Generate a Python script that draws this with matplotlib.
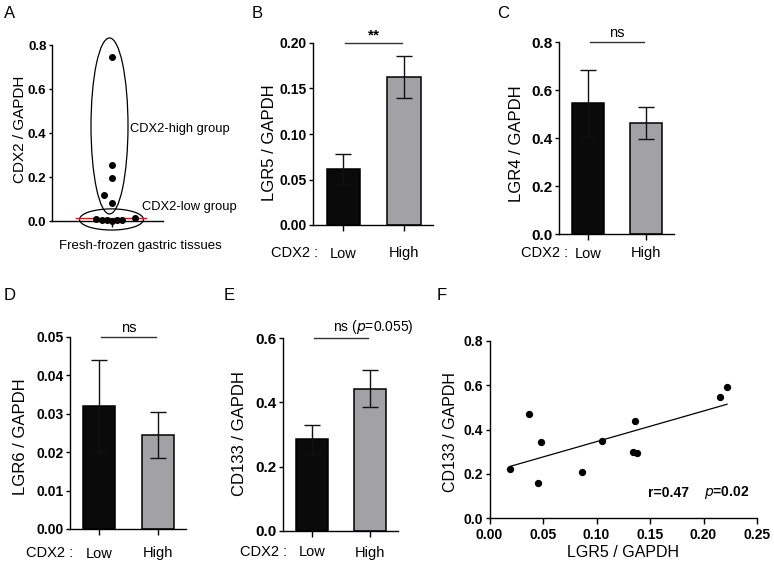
import numpy as np
import matplotlib
matplotlib.use("Agg")
import matplotlib.pyplot as plt
from matplotlib.patches import Ellipse

plt.rcParams['font.family'] = ['Liberation Sans', 'DejaVu Sans']
plt.rcParams['axes.linewidth'] = 1.0
plt.rcParams['xtick.major.width'] = 1.0
plt.rcParams['ytick.major.width'] = 1.0
plt.rcParams['xtick.major.size'] = 4
plt.rcParams['ytick.major.size'] = 3
plt.rcParams['ytick.major.pad'] = 1.5

# ---- data ----
cdx2_high = [0.744, 0.255, 0.197, 0.117, 0.08]
cdx2_low = [0.01, 0.003, 0.003, 0.0, 0.003, 0.003, 0.015]
cdx2_cutoff = 0.012

groups = ["Low", "High"]
lgr5_mean = [0.061, 0.163]
lgr5_err = [0.017, 0.023]
lgr4_mean = [0.545, 0.462]
lgr4_err = [0.14, 0.067]
lgr6_mean = [0.032, 0.0245]
lgr6_err = [0.012, 0.006]
cd133_mean = [0.285, 0.443]
cd133_err = [0.046, 0.057]

scat_lgr5 = [0.019, 0.037, 0.048, 0.045, 0.086, 0.105, 0.136, 0.134, 0.138, 0.215, 0.222]
scat_cd133 = [0.221, 0.47, 0.345, 0.157, 0.209, 0.348, 0.438, 0.298, 0.292, 0.545, 0.591]

W, H = 774, 564
PT = 100 / 72.0
fig = plt.figure(figsize=(W / 100, H / 100), dpi=100)


def px_axes(l, t, r, b):
    ax = fig.add_axes([l / W, (H - b) / H, (r - l) / W, (b - t) / H])
    ax.px = (l, t, r, b)
    return ax


def ylabel_at(ax, text, px, py, size):
    # px is the wanted centre of the rotated label; the anchor is its right edge
    l, t, r, b = ax.px
    ax.set_ylabel(text, fontsize=size)
    ax.yaxis.set_label_coords((px + 6 - l) / (r - l), (b - py) / (b - t))


def style(ax, tsize):
    ax.spines['top'].set_visible(False)
    ax.spines['right'].set_visible(False)
    ax.tick_params(axis='y', labelsize=tsize)
    for lab in ax.get_yticklabels():
        lab.set_fontweight('bold')


def bar_panel(rect, mean, err, ymax, step, fmt, ylabel, lab_xy, xoff, cdx_x, tsize):
    ax = px_axes(*rect)
    x = np.arange(len(groups))
    ax.bar(x, mean, width=0.55, color=['#0a0a0a', '#a2a2a6'],
           edgecolor='black', linewidth=1.1, zorder=2)
    ax.errorbar(x, mean, yerr=err, fmt='none', ecolor='#111111',
                elinewidth=1.0, capsize=6, capthick=1.0, zorder=3)
    ax.set_xlim(-0.5, 1.48)
    ax.set_ylim(0, ymax)
    ax.set_yticks(np.arange(0, ymax + step / 2, step))
    ax.yaxis.set_major_formatter(plt.FormatStrFormatter(fmt))
    ax.set_xticks(x)
    ax.set_xticklabels(groups, fontsize=10.5)
    # xoff = distance in px from the axis line to the centre of the labels
    ax.tick_params(axis='x', pad=max(0.5, (xoff - 4 * PT - 6.5) / PT))
    ylabel_at(ax, ylabel, lab_xy[0], lab_xy[1], 12)
    l, t, r, b = rect
    fig.text(cdx_x / W, 1 - (b + xoff) / H, "CDX2 :", ha='right', va='center', fontsize=10.5)
    ax.plot([0.03, 0.97], [ymax, ymax], color='#333333', lw=1.0, clip_on=False)
    style(ax, tsize)
    return ax


# ---- A ----
axA = px_axes(52, 45, 163, 221)
hi_off = [0, 0, 0, -0.8, 0]
lo_off = [-1.6, -1.0, -0.5, 0, 0.5, 1.0, 2.35]
axA.scatter(hi_off, cdx2_high, s=16, color='black', zorder=3, clip_on=False)
axA.scatter(lo_off, cdx2_low, s=16, color='black', zorder=3, clip_on=False)
axA.plot([-3.55, 3.45], [cdx2_cutoff, cdx2_cutoff], color='#d02020', lw=1.0, zorder=2, clip_on=False)
axA.add_patch(Ellipse((-0.2, 0.432), 3.7, 0.8, fill=False, lw=0.9, ec='black', clip_on=False))
axA.add_patch(Ellipse((0.0, 0.007), 6.4, 0.096, fill=False, lw=0.9, ec='black', clip_on=False))
axA.set_xlim(-5.95, 5.15)
axA.set_ylim(0, 0.8)
axA.set_yticks([0, 0.2, 0.4, 0.6, 0.8])
axA.yaxis.set_major_formatter(plt.FormatStrFormatter('%.1f'))
axA.set_xticks([0])
axA.set_xticklabels([""])
ylabel_at(axA, "CDX2 / GAPDH", 21, 129, 11)
axA.text(1.9, 0.42, "CDX2-high group", fontsize=9.3, va='center')
axA.text(3.0, 0.064, "CDX2-low group", fontsize=9.3, va='center')
fig.text(140 / W, 1 - 246 / H, "Fresh-frozen gastric tissues", fontsize=9.5, ha='center', va='center')
style(axA, 9.5)
axA.tick_params(axis='y', length=2.5, pad=1.5)

# ---- B-E ----
axB = bar_panel((313, 43, 433, 225), lgr5_mean, lgr5_err, 0.20, 0.05, '%.2f',
                "LGR5 / GAPDH", (271, 143), 28, 318, 10)
axB.text(0.5, 0.201, "**", ha='center', va='bottom', fontsize=11, fontweight='bold')
axC = bar_panel((559, 42, 674, 234), lgr4_mean, lgr4_err, 0.8, 0.2, '%.1f',
                "LGR4 / GAPDH", (518, 144), 19, 568, 11)
axC.text(0.5, 0.81, "ns", ha='center', va='bottom', fontsize=10.5)
axD = bar_panel((70, 337, 186, 529), lgr6_mean, lgr6_err, 0.05, 0.01, '%.2f',
                "LGR6 / GAPDH", (22, 437), 24, 73, 10)
axD.text(0.5, 0.0505, "ns", ha='center', va='bottom', fontsize=10.5)
axE = bar_panel((283, 338, 398, 531), cd133_mean, cd133_err, 0.6, 0.2, '%.1f',
                "CD133 / GAPDH", (241, 434), 21, 287, 11)
axE.text(0.36, 0.607, "ns ($\\it{p}$=0.055)", ha='left', va='bottom', fontsize=10)

# ---- F ----
axF = px_axes(489.5, 341, 757, 518)
axF.scatter(scat_lgr5, scat_cd133, s=18, color='black', zorder=3)
k, b0 = np.polyfit(scat_lgr5, scat_cd133, 1)
xs = np.array([min(scat_lgr5), max(scat_lgr5)])
axF.plot(xs, k * xs + b0, color='black', lw=0.9)
axF.set_xlim(0, 0.25)
axF.set_ylim(0, 0.8)
axF.set_xticks(np.arange(0, 0.26, 0.05))
axF.set_yticks(np.arange(0, 0.81, 0.2))
axF.xaxis.set_major_formatter(plt.FormatStrFormatter('%.2f'))
axF.yaxis.set_major_formatter(plt.FormatStrFormatter('%.1f'))
axF.set_xlabel("LGR5 / GAPDH", fontsize=11.5, labelpad=2)
ylabel_at(axF, "CD133 / GAPDH", 452, 432, 11.5)
axF.text(0.167, 0.113, "r=0.47", ha='center', va='center', fontsize=10, fontweight='bold')
axF.text(0.222, 0.113, "$\\bf{\\it{p}}$=0.02", ha='center', va='center', fontsize=10, fontweight='bold')
style(axF, 10)
axF.tick_params(axis='x', labelsize=10)
for lab in axF.get_xticklabels():
    lab.set_fontweight('bold')

# ---- panel labels ----
for lab, (x, y) in zip("ABCDEF", [(10, 13), (257, 13), (503, 13), (10, 295), (229, 295), (442, 296)]):
    fig.text(x / W, 1 - y / H, lab, fontsize=12, ha='center', va='center')

fig.savefig("out.png", dpi=100)
